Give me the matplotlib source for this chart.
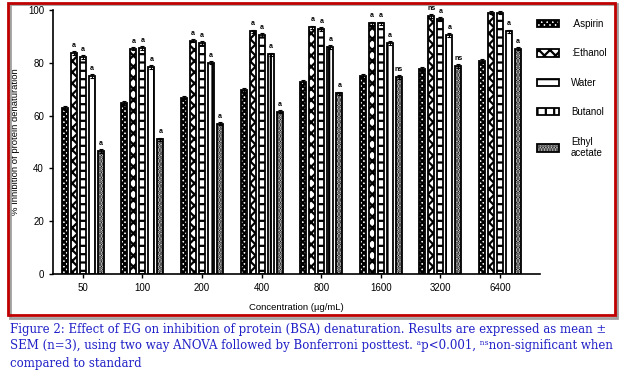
import numpy as np
import matplotlib
matplotlib.use("Agg")
from matplotlib import pyplot as plt
from matplotlib.patches import Rectangle

concentrations = ["50", "100", "200", "400", "800", "1600", "3200", "6400"]
aspirin = [62.9, 64.8, 66.7, 69.7, 72.7, 75.0, 77.7, 80.7]
ethanol = [83.7, 85.3, 88.3, 92.0, 93.5, 95.0, 97.7, 99.0]
water = [82.2, 85.6, 87.5, 90.5, 92.8, 95.0, 96.6, 99.0]
butanol = [75.0, 78.4, 80.0, 83.3, 86.0, 87.5, 90.5, 92.0]
ethyl_acetate = [46.6, 51.0, 57.0, 61.4, 68.5, 74.6, 78.8, 85.3]
sem = [0.6, 0.6, 0.6, 0.6, 0.6, 0.6, 0.6, 0.6]

series_names = [".Aspirin", ":Ethanol", "Water", "Butanol", "Ethyl\nacetate"]
# significance marks, None = no mark drawn
marks_ethanol = ["a", "a", "a", "a", "a", "a", "ns", None]
marks_water = ["a", "a", "a", "a", "a", "a", "a", None]
marks_butanol = ["a", "a", "a", "a", "a", "a", "a", "a"]
marks_ethyl = ["a", "a", "a", "a", "a", "ns", "ns", "a"]

caption = [
    "Figure 2: Effect of EG on inhibition of protein (BSA) denaturation. Results are expressed as mean \u00b1",
    "SEM (n=3), using two way ANOVA followed by Bonferroni posttest. \u1d43p<0.001, \u207f\u02e2non-significant when",
    "compared to standard",
]

plt.rcParams["font.family"] = ["Liberation Sans", "DejaVu Sans"]
plt.rcParams["hatch.linewidth"] = 1.6

fig = plt.figure(figsize=(6.24, 3.83), dpi=100)
ax = fig.add_axes([53 / 624, 1 - 274 / 383, 487 / 624, 264 / 383])

x = np.arange(len(concentrations))
step = 0.151
width = 0.10
data = [aspirin, ethanol, water, butanol, ethyl_acetate]
hatches = ["xxxxxx", "xxx", "--", "||", "......"]
marks = [None, marks_ethanol, marks_water, marks_butanol, marks_ethyl]

handles = []
for i, (vals, h, mk) in enumerate(zip(data, hatches, marks)):
    pos = x + (i - 2) * step
    bars = ax.bar(pos, vals, width, yerr=sem, color="white", edgecolor="black",
                  linewidth=1.3, hatch=h, error_kw=dict(elinewidth=0.8, capsize=1.5, capthick=0.8))
    handles.append(bars)
    if mk is not None:
        for p, v, m in zip(pos, vals, mk):
            if m:
                ax.text(p, v + 1.5, m, ha="center", va="bottom", fontsize=5,
                        fontweight="bold", clip_on=False)

ax.set_xlim(-0.5, 7.67)
ax.set_ylim(0, 100)
ax.set_yticks([0, 20, 40, 60, 80, 100])
ax.set_xticks(x)
ax.set_xticklabels(concentrations)
ax.tick_params(labelsize=7, length=3, width=1)
for s in ["top", "right"]:
    ax.spines[s].set_visible(False)
for s in ["left", "bottom"]:
    ax.spines[s].set_linewidth(1.2)
ax.set_ylabel("% Inhibition of protein denaturation", fontsize=6.8, labelpad=6)
ax.set_xlabel("Concentration (\u00b5g/mL)", fontsize=6.8, labelpad=7)

fig.legend(handles, series_names, loc="upper left", bbox_to_anchor=(528 / 624, 1 - 10 / 383),
           frameon=False, fontsize=7, handlelength=2.3, handleheight=0.8,
           labelspacing=2.0, handletextpad=1.2)

# red frame with grey shadow
fig.patches.append(Rectangle((10 / 624, 1 - 318 / 383), 607 / 624, 314 / 383,
                             transform=fig.transFigure, fill=False, edgecolor="#a0a0a0",
                             linewidth=2, zorder=0))
fig.patches.append(Rectangle((8 / 624, 1 - 315 / 383), 607 / 624, 312 / 383,
                             transform=fig.transFigure, fill=False, edgecolor="#c00000",
                             linewidth=2, zorder=1))

for k, line in enumerate(caption):
    fig.text(10 / 624, 1 - (329 + 17 * k) / 383, line, fontsize=8.5, color="#2020c8",
             family=["DejaVu Serif", "DejaVu Sans"], va="center", ha="left")

fig.savefig("out.png", dpi=100)
